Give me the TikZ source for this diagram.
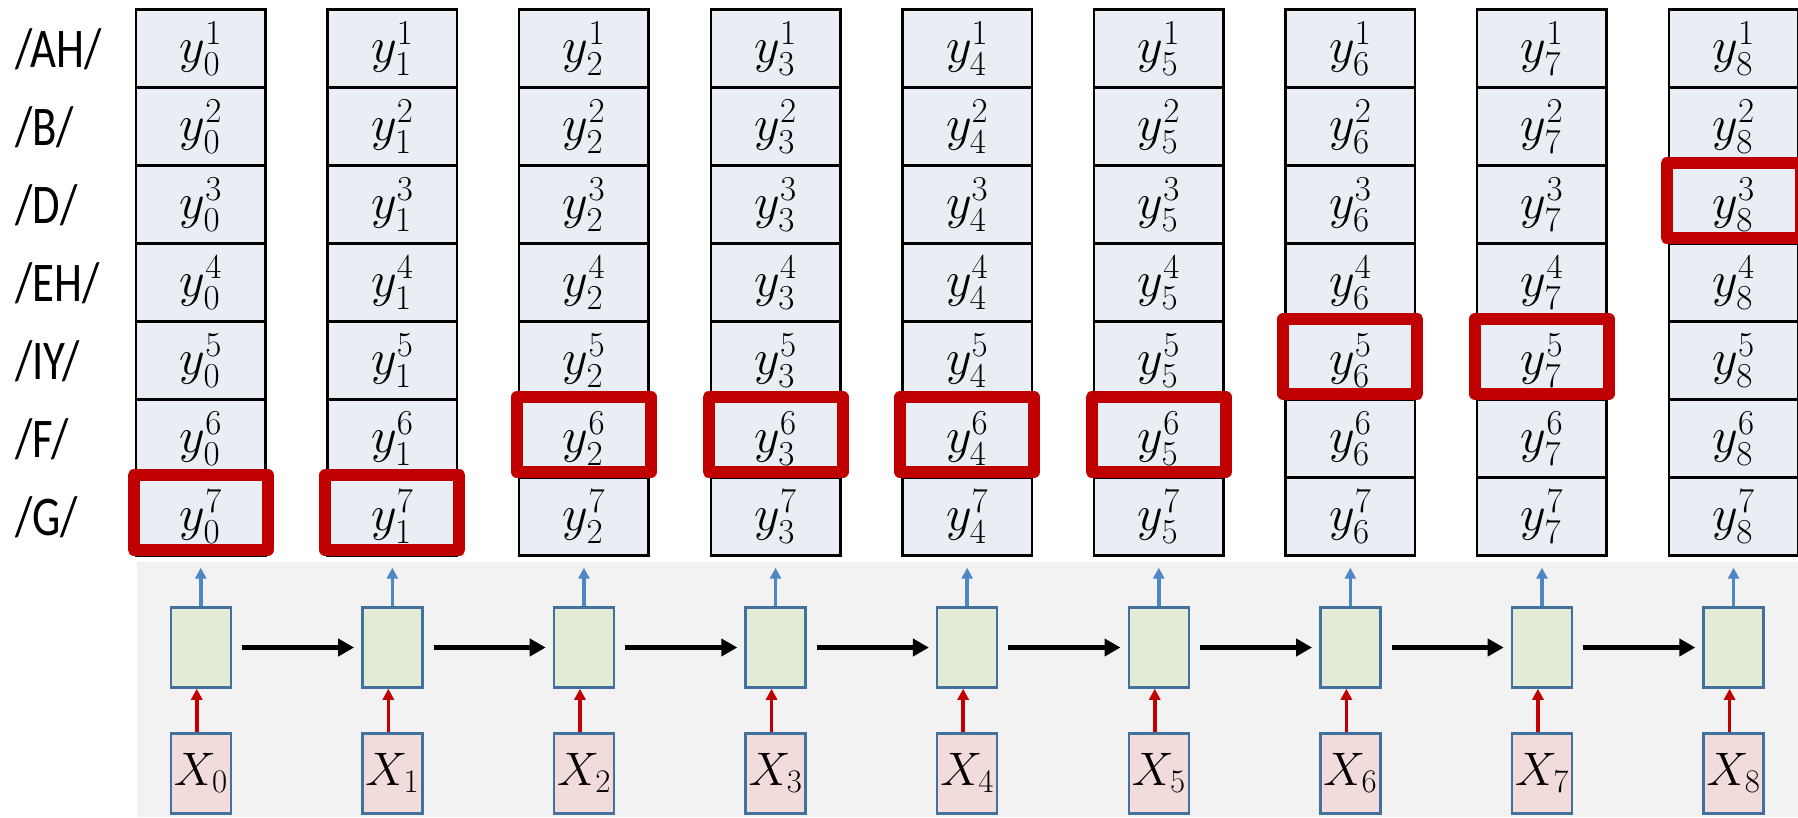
\documentclass[tikz,border=0pt]{standalone}
\usepackage{fix-cm}
\usepackage{fontspec}
\usepackage{graphicx}
\newfontfamily\lblfont{Carlito}
\usetikzlibrary{arrows.meta}
\definecolor{cellfill}{HTML}{E9EDF4}
\definecolor{greenfill}{HTML}{E3EBD6}
\definecolor{pinkfill}{HTML}{F2DCDB}
\definecolor{boxblue}{HTML}{41719C}
\definecolor{arrblue}{HTML}{4F86C6}
\definecolor{hlred}{HTML}{C00000}
\definecolor{bggrey}{HTML}{F2F2F2}
\tikzset{
  cell/.style={draw=black, line width=2.5pt, fill=cellfill, minimum width=129.5pt,
    minimum height=78pt, inner sep=0pt, font=\fontsize{50}{60}\selectfont},
  rnn/.style={draw=boxblue, line width=2.5pt, fill=greenfill, minimum width=60pt,
    minimum height=80pt, inner sep=0pt},
  inp/.style={draw=boxblue, line width=2.5pt, fill=pinkfill, minimum width=60pt,
    minimum height=80pt, inner sep=0pt, font=\fontsize{47}{56}\selectfont},
  hl/.style={draw=hlred, line width=12pt, line join=round},
  lbl/.style={anchor=base west, inner sep=0pt, font=\lblfont\fontsize{56}{64}\selectfont},
  bluearr/.style={draw=arrblue, line width=3.5pt, -{Triangle[length=11pt,width=11pt]}},
  redarr/.style={draw=hlred, line width=3.5pt, -{Triangle[length=11pt,width=11pt]}},
  blackarr/.style={draw=black, line width=4.5pt, -{Triangle[length=16pt,width=17pt]}}
}
\begin{document}
\begin{tikzpicture}[x=1pt,y=-1pt]
\useasboundingbox (0,0) rectangle (1798,817);
\fill[bggrey] (136.7,561.7) rectangle (1798,817);
% row labels
\foreach \row/\txt in {1/{/AH/},2/{/B/},3/{/D/},4/{/EH/},5/{/IY/},6/{/F/},7/{/G/}} {
  \node[lbl] (lab\row) at (15,{9.5+78*(\row-0.5)+18.5}) {\scalebox{0.8}[1]{\txt}};
}
\foreach \col in {0,...,8} {
  \pgfmathsetmacro\cx{136+191.6*\col+64.75}
  \foreach \row in {1,...,7} {
    \node[cell] (c-\col-\row) at (\cx,{9.5+78*(\row-0.5)}) {$y_{\col}^{\row}$};
  }
  \node[rnn] (g\col) at (\cx,647.5) {};
  \node[inp] (x\col) at (\cx,773.3) {$X_{\col}$};
  \coordinate (o\col) at (\cx,567.7);
  \draw[bluearr] (g\col.north) -- (o\col);
  \draw[redarr] ([xshift=-4pt]x\col.north) -- ([xshift=-4pt]g\col.south);
}
\foreach \col [evaluate=\col as \nxt using int(\col+1)] in {0,...,7} {
  \draw[blackarr] ([xshift=10pt]g\col.east) -- ([xshift=-7pt]g\nxt.west);
}
\foreach \col/\row in {0/7,1/7,2/6,3/6,4/6,5/6,6/5,7/5,8/3} {
  \draw[hl] ([xshift=-1pt,yshift=1pt]c-\col-\row.north west) rectangle ([xshift=1pt,yshift=7pt]c-\col-\row.south east);
}
\end{tikzpicture}
\end{document}
